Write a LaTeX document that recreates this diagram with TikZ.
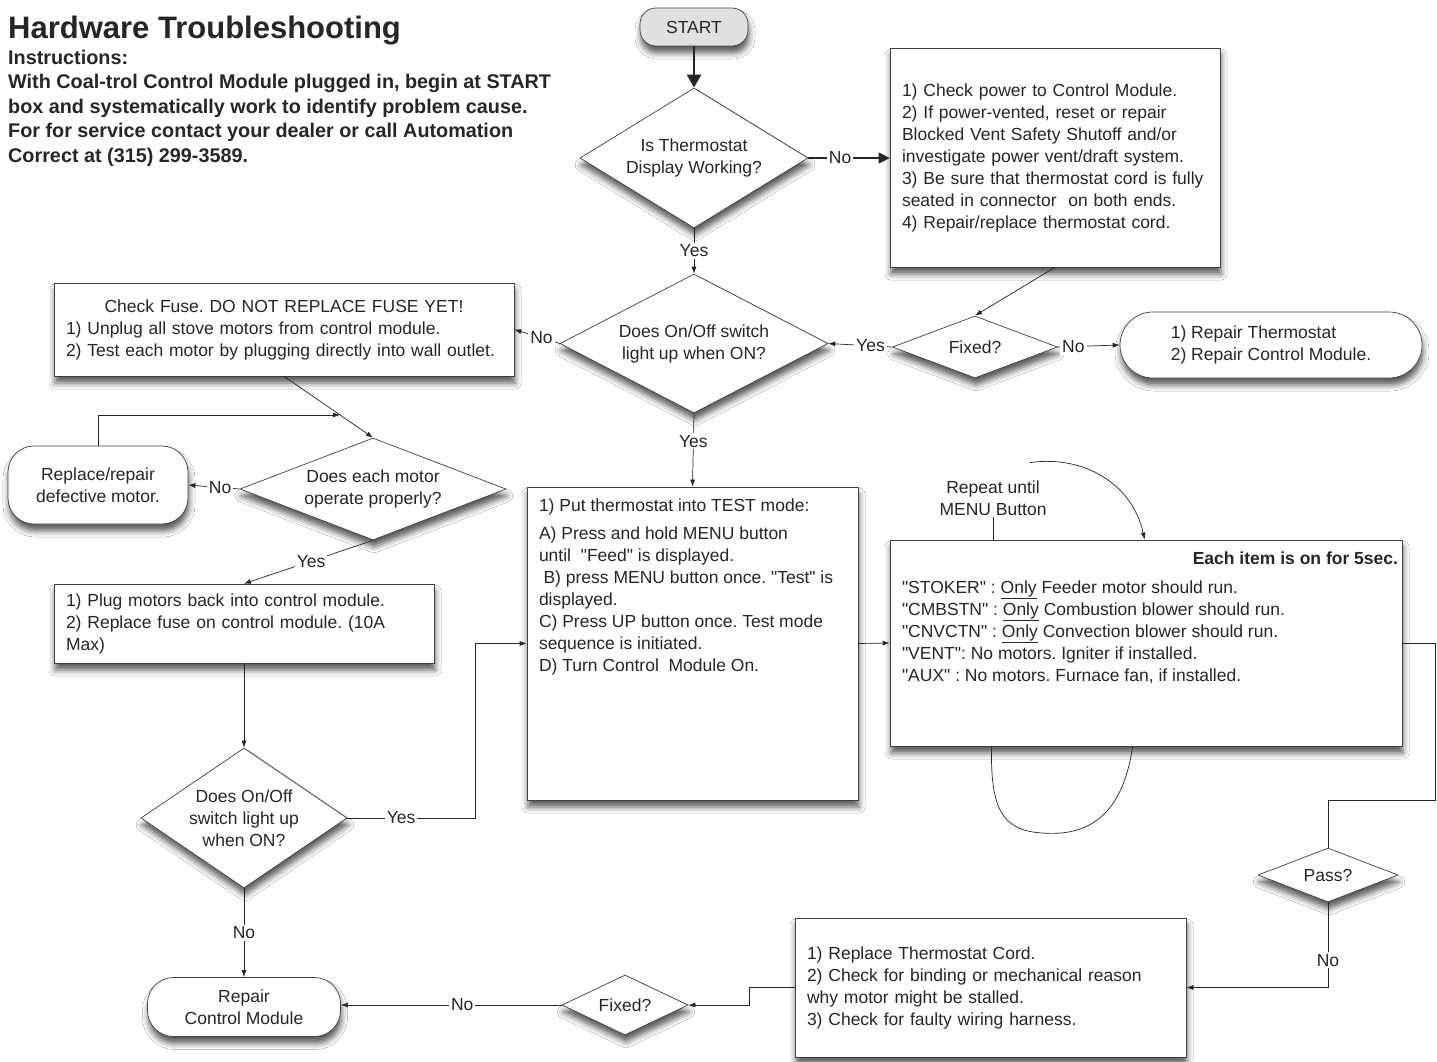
\documentclass[tikz,border=0pt]{standalone}
\usepackage{fontspec}
\setmainfont{Liberation Sans}[Ligatures=TeXOff]
\usetikzlibrary{shapes.geometric,arrows.meta,shadows.blur,calc}
\newcommand\bodyf{\fontsize{17.5}{22}\selectfont}
\frenchspacing
\tikzset{
  every node/.style={text=black!85},
  shd/.style={blur shadow={shadow xshift=1pt, shadow yshift=-7pt, shadow blur radius=6pt, shadow opacity=65}},
  pbox/.style={rectangle, draw=black!75, line width=0.7pt, fill=white, inner xsep=12pt, inner ysep=4pt, align=left, font=\bodyf, shd},
  term/.style={pbox, align=center},
  dec/.style={diamond, draw=black!75, line width=0.7pt, fill=white, inner sep=0pt, align=center, font=\bodyf, shd},
  lbl/.style={fill=white, inner sep=2pt, font=\bodyf},
  ln/.style={line width=0.7pt, draw=black!85},
  arr/.style={ln, -{Latex[length=7pt,width=5pt]}},
}
\begin{document}
\begin{tikzpicture}[x=1pt,y=-1pt]
\useasboundingbox[fill=white] (0,0) rectangle (1437,1061);

% title and instructions
\node[anchor=base west, inner sep=0pt, font=\fontsize{31}{36}\selectfont\bfseries\frenchspacing] (title) at (8,38) {Hardware Troubleshooting};
\node[anchor=north west, inner sep=0pt, align=left, font=\fontsize{19.8}{24.4}\selectfont\bfseries] (instr) at (8,50)
  {Instructions:\\With Coal-trol Control Module plugged in, begin at START\\box and systematically work to identify problem cause.\\For for service contact your dealer or call Automation\\Correct at (315) 299-3589.};

% nodes
\node[term, fill=black!12, minimum width=108pt, minimum height=38pt, rounded corners=16pt] (start) at (694,27) {START};
\node[dec, minimum width=228pt, minimum height=140pt, aspect=1.63] (d1) at (694,158) {Is Thermostat\\Display Working?};
\node[pbox, text width=306pt, minimum height=219pt] (box1) at (1055,157.5)
  {1) Check power to Control Module.\\2) If power-vented, reset or repair\\Blocked Vent Safety Shutoff and/or\\investigate power vent/draft system.\\3) Be sure that thermostat cord is fully\\seated in connector\ \ on both ends.\\4) Repair/replace thermostat cord.};
\node[dec, minimum width=165pt, minimum height=62pt, aspect=2.66] (fx1) at (975,347) {Fixed?};
\node[term, align=left, minimum width=302pt, minimum height=66pt, rounded corners=33pt] (rep1) at (1271,345) {1) Repair Thermostat\\2) Repair Control Module.};
\node[dec, minimum width=268pt, minimum height=139pt, aspect=1.93] (d2) at (694,343.5) {Does On/Off switch\\light up when ON?};
\node[pbox, text width=436pt, minimum height=93pt] (fuse) at (284,329.5)
  {\makebox[\linewidth]{Check Fuse. DO NOT REPLACE FUSE YET!}\\1) Unplug all stove motors from control module.\\2) Test each motor by plugging directly into wall outlet.};
\node[dec, minimum width=266pt, minimum height=102pt, aspect=2.6] (d3) at (373,489) {Does each motor\\operate properly?};
\node[term, minimum width=180pt, minimum height=78pt, rounded corners=26pt] (rep2) at (98,485) {Replace/repair\\defective motor.};
\node[pbox, text width=356pt, minimum height=79pt] (plug) at (244,623.5)
  {1) Plug motors back into control module.\\2) Replace fuse on control module. (10A\\Max)};
\node[dec, minimum width=206pt, minimum height=140pt, aspect=1.5] (d4) at (244,818) {Does On/Off\\switch light up\\when ON?};
\node[term, minimum width=193pt, minimum height=59pt, rounded corners=26pt] (rcm) at (244,1007) {Repair\\Control Module};
\node[pbox, inner ysep=0pt] (test) at (692.5,643.5)
  {\parbox[c][313pt][t]{307pt}{\rule{0pt}{24pt}1) Put thermostat into TEST mode:\\[6pt]
   A) Press and hold MENU button\\until\ \ "Feed" is displayed.\\\hspace*{4.5pt}B) press MENU button once. "Test" is\\displayed.\\C) Press UP button once. Test mode\\sequence is initiated.\\D) Turn Control\ \ Module On.}};
\node[pbox, inner ysep=0pt] (right) at (1146,643)
  {\parbox[c][206pt][t]{488pt}{\rule{0pt}{24pt}\hfill\textbf{Each item is on for 5sec.}\hspace*{-8pt}\\[7pt]
   "STOKER" : \underline{Only} Feeder motor should run.\\"CMBSTN" : \underline{Only} Combustion blower should run.\\"CNVCTN" : \underline{Only} Convection blower should run.\\"VENT": No motors. Igniter if installed.\\"AUX" : No motors. Furnace fan, if installed.}};
\node[font=\bodyf, align=center, inner sep=1pt] (rep) at (993,498) {Repeat until\\MENU Button};
\node[dec, minimum width=140pt, minimum height=54pt, aspect=2.6] (pass) at (1328,875) {Pass?};
\node[pbox, text width=367pt, minimum height=139pt] (bot) at (990.5,987.5)
  {1) Replace Thermostat Cord.\\2) Check for binding or mechanical reason\\why motor might be stalled.\\3) Check for faulty wiring harness.};
\node[dec, minimum width=126pt, minimum height=60pt, aspect=2.1] (fx2) at (625,1005) {Fixed?};

% connectors
\draw[line width=2.5pt, draw=black!85, -{Triangle[length=13pt,width=14pt]}] (start.south) -- (d1.north);
\draw[line width=1.1pt, draw=black!85, -{Triangle[length=11pt,width=11pt]}] (d1.east) -- node[lbl,pos=0.39]{No} (box1.west |- d1.east);
\draw[arr] (d1.south) -- node[lbl]{Yes} (d2.north);
\draw[arr] (box1.south) -- (fx1.north);
\draw[arr] (fx1.west) -- node[lbl,pos=0.34]{Yes} (d2.east);
\draw[arr] (fx1.east) -- node[lbl,pos=0.25]{No} (rep1.west);
\draw[arr] (d2.west) -- node[lbl,pos=0.4]{No} (fuse.east);
\draw[arr] (d2.south) -- node[lbl,pos=0.38]{Yes} (test.north);
\draw[arr] (fuse.south) -- (d3.north);
\draw[arr] (rep2.north) |- ($(fuse.south)!0.63!(d3.north)$);
\draw[arr] (d3.west) -- node[lbl,pos=0.38]{No} (rep2.east);
\draw[arr] (d3.south) -- node[lbl,pos=0.48]{Yes} (plug.north);
\draw[arr] (plug.south) -- (d4.north);
\draw[arr] (d4.east) -- node[lbl,pos=0.42]{Yes} ++(128,0) |- (test.west);
\draw[arr] (d4.south) -- node[lbl]{No} (rcm.north);
\draw[arr] (test.east) -- (right.west);
\draw[ln] (rep.south) -- (rep.south |- right.north);
\draw[arr] ($(right.north west)+(140,-77)$) .. controls +(55,-8) and +(-12,-55) .. ($(right.north west)+(255,0)$);
\draw[ln] ($(right.south west)+(102,0)$) .. controls ($(right.south west)+(100,72)$) and ($(right.south west)+(118,86)$) .. ($(right.south west)+(160,87)$)
  .. controls ($(right.south west)+(205,88)$) and ($(right.south west)+(234,62)$) .. ($(right.south west)+(243,0)$);
\draw[ln] (right.east) -- ++(33,0) -- ++(0,157) -| (pass.north);
\draw[arr] (pass.south) |- node[lbl,pos=0.34]{No} (bot.east);
\draw[arr] (bot.west) -- ++(-45,0) |- (fx2.east);
\draw[arr] (fx2.west) -- node[lbl,pos=0.45]{No} (rcm.east |- fx2.west);
\end{tikzpicture}
\end{document}
